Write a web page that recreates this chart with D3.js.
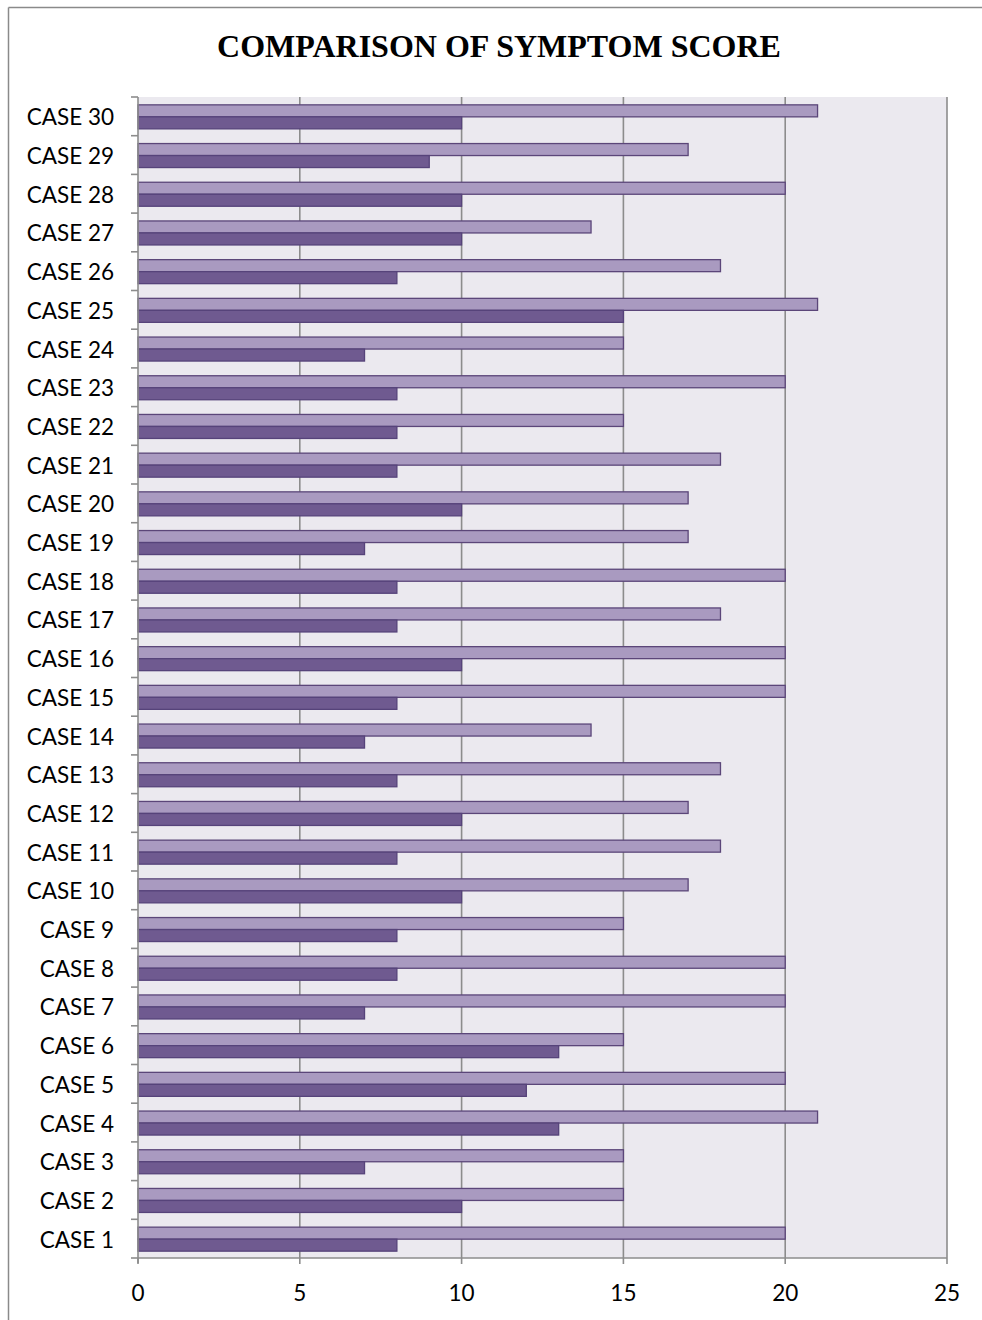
<!DOCTYPE html>
<html>
<head>
<meta charset="utf-8">
<script src="https://cdn.jsdelivr.net/npm/d3@7"></script>
<style>
  html, body { margin: 0; padding: 0; background: #ffffff; }
  svg { display: block; }
</style>
</head>
<body>
<svg id="chart" width="982" height="1320"></svg>
<script>
// Case labels, bottom (CASE 1) to top (CASE 30)
const cases = d3.range(1, 31).map(i => "CASE " + i);

// Symptom scores per case (CASE 1 .. CASE 30)
const scoreBefore = [20, 15, 15, 21, 20, 15, 20, 20, 15, 17,
                     18, 17, 18, 14, 20, 20, 18, 20, 17, 17,
                     18, 15, 20, 15, 21, 18, 14, 20, 17, 21];
const scoreAfter  = [8, 10, 7, 13, 12, 13, 7, 8, 8, 10,
                     8, 10, 8, 7, 8, 10, 8, 8, 7, 10,
                     8, 8, 8, 7, 15, 8, 10, 10, 9, 10];

const xTicks = [0, 5, 10, 15, 20, 25];

const svg = d3.select("#chart");
const W = 982, H = 1320;

// outer chart frame (top and left edges)
svg.append("line").attr("x1", 8.5).attr("y1", 7.5).attr("x2", W).attr("y2", 7.5)
  .attr("stroke", "#8a8a8a").attr("stroke-width", 1.5);
svg.append("line").attr("x1", 8.5).attr("y1", 7.5).attr("x2", 8.5).attr("y2", H)
  .attr("stroke", "#8a8a8a").attr("stroke-width", 1.5);

// title
svg.append("text")
  .attr("x", 499).attr("y", 57)
  .attr("text-anchor", "middle")
  .attr("font-family", "'Liberation Serif', 'Times New Roman', serif")
  .attr("font-weight", "bold")
  .attr("font-size", 32)
  .attr("fill", "#000")
  .text("COMPARISON OF SYMPTOM SCORE");

const plot = { left: 138, right: 947, top: 97, bottom: 1258 };

const x = d3.scaleLinear().domain([0, 25]).range([plot.left, plot.right]);
// reversed so CASE 30 sits at the top
const y = d3.scaleBand().domain(cases.slice().reverse()).range([plot.top, plot.bottom]).paddingInner(0).paddingOuter(0);

// plot background
svg.append("rect")
  .attr("x", plot.left).attr("y", plot.top)
  .attr("width", plot.right - plot.left).attr("height", plot.bottom - plot.top)
  .attr("fill", "#ebe9ef");

// vertical gridlines
svg.append("g").selectAll("line").data(xTicks.slice(1)).join("line")
  .attr("x1", d => x(d)).attr("x2", d => x(d))
  .attr("y1", plot.top).attr("y2", plot.bottom)
  .attr("stroke", "#8c8c8c").attr("stroke-width", 1.6);

// bars
const bw = y.bandwidth();
const barH = 12;
const groupTop = c => y(c) + (bw - 2 * barH) / 2 + 0.5;

const rows = cases.map((c, i) => ({ c, before: scoreBefore[i], after: scoreAfter[i] }));

const barsG = svg.append("g");
barsG.selectAll("rect.before").data(rows).join("rect")
  .attr("class", "before")
  .attr("x", x(0)).attr("y", d => groupTop(d.c))
  .attr("width", d => x(d.before) - x(0)).attr("height", barH)
  .attr("fill", "#a99ac0").attr("stroke", "#5b4679").attr("stroke-width", 1.3);
barsG.selectAll("rect.after").data(rows).join("rect")
  .attr("class", "after")
  .attr("x", x(0)).attr("y", d => groupTop(d.c) + barH)
  .attr("width", d => x(d.after) - x(0)).attr("height", barH)
  .attr("fill", "#6f5a90").attr("stroke", "#56437a").attr("stroke-width", 1.3);

// y axis: line, ticks at category boundaries, labels
const axisColor = "#8c8c8c";
const yAxis = svg.append("g");
yAxis.append("line")
  .attr("x1", plot.left).attr("x2", plot.left)
  .attr("y1", plot.top).attr("y2", plot.bottom + 5)
  .attr("stroke", axisColor).attr("stroke-width", 1.6);
const bounds = cases.map(c => y(c)).concat([plot.bottom]);
yAxis.selectAll("line.tick").data(bounds).join("line")
  .attr("class", "tick")
  .attr("x1", plot.left - 7).attr("x2", plot.left)
  .attr("y1", d => d).attr("y2", d => d)
  .attr("stroke", axisColor).attr("stroke-width", 1.6);
yAxis.selectAll("text").data(cases).join("text")
  .attr("x", 114).attr("y", d => y(d) + bw / 2 + 9)
  .attr("text-anchor", "end")
  .attr("font-family", "Lato, 'Open Sans', sans-serif")
  .attr("font-size", 22.5)
  .attr("fill", "#000")
  .text(d => d);

// x axis: baseline, ticks, labels
const xAxis = svg.append("g");
xAxis.append("line")
  .attr("x1", plot.left).attr("x2", plot.right)
  .attr("y1", plot.bottom).attr("y2", plot.bottom)
  .attr("stroke", axisColor).attr("stroke-width", 1.6);
xAxis.selectAll("line.tick").data(xTicks).join("line")
  .attr("class", "tick")
  .attr("x1", d => x(d)).attr("x2", d => x(d))
  .attr("y1", plot.bottom).attr("y2", plot.bottom + 6)
  .attr("stroke", axisColor).attr("stroke-width", 1.6);
xAxis.selectAll("text").data(xTicks).join("text")
  .attr("x", d => x(d)).attr("y", 1301)
  .attr("text-anchor", "middle")
  .attr("font-family", "Lato, 'Open Sans', sans-serif")
  .attr("font-size", 22.5)
  .attr("fill", "#000")
  .text(d => d);
</script>
</body>
</html>
